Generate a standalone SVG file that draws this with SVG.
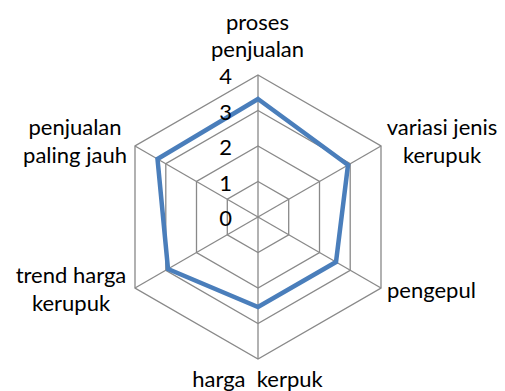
<svg xmlns="http://www.w3.org/2000/svg" width="505" height="391" viewBox="0 0 505 391">
<style>
.grid{fill:none;stroke:#898989;stroke-width:1.3}
.data{fill:none;stroke:#4a7ebb;stroke-width:4.5;stroke-linejoin:miter}
text{font-family:Lato,"Liberation Sans",Arial,sans-serif;font-size:22px;fill:#000}
.tick{text-anchor:end}
.c{text-anchor:middle}
</style>
<rect width="505" height="391" fill="#fff"/>
<g id="grid">
<polygon class="grid" points="258,75 381,146 381,288 258,359 135,288 135,146"/>
<polygon class="grid" points="258,110.5 350.2,163.75 350.2,270.25 258,323.5 165.8,270.25 165.8,163.75"/>
<polygon class="grid" points="258,146 319.5,181.5 319.5,252.5 258,288 196.5,252.5 196.5,181.5"/>
<polygon class="grid" points="258,181.5 288.7,199.25 288.7,234.75 258,252.5 227.3,234.75 227.3,199.25"/>
</g>
<g id="connectors">
<line class="grid" x1="258" y1="217" x2="258" y2="75"/>
<line class="grid" x1="258" y1="217" x2="381" y2="146"/>
<line class="grid" x1="258" y1="217" x2="381" y2="288"/>
<line class="grid" x1="258" y1="217" x2="258" y2="359"/>
<line class="grid" x1="258" y1="217" x2="135" y2="288"/>
<line class="grid" x1="258" y1="217" x2="135" y2="146"/>
</g>
<g id="series">
<polygon class="data" points="258,99 348,165 336,262 258,307 168,269 157.5,159"/>
</g>
<g id="ticks">
<text class="tick" x="232" y="84">4</text>
<text class="tick" x="232" y="119.5">3</text>
<text class="tick" x="232" y="155">2</text>
<text class="tick" x="232" y="190.5">1</text>
<text class="tick" x="232" y="226">0</text>
</g>
<g id="node-proses">
<text class="c" x="257.5" y="30">proses</text>
<text class="c" x="257.5" y="57">penjualan</text>
</g>
<g id="node-variasi">
<text class="c" x="442" y="135">variasi jenis</text>
<text class="c" x="442" y="163">kerupuk</text>
</g>
<g id="node-pengepul">
<text x="387" y="298">pengepul</text>
</g>
<g id="node-harga">
<text class="c" x="257.5" y="387" style="white-space:pre">harga  kerpuk</text>
</g>
<g id="node-trend">
<text class="c" x="71" y="283">trend harga</text>
<text class="c" x="71" y="311">kerupuk</text>
</g>
<g id="node-penjualan">
<text class="c" x="75" y="135">penjualan</text>
<text class="c" x="75" y="163">paling jauh</text>
</g>
</svg>
